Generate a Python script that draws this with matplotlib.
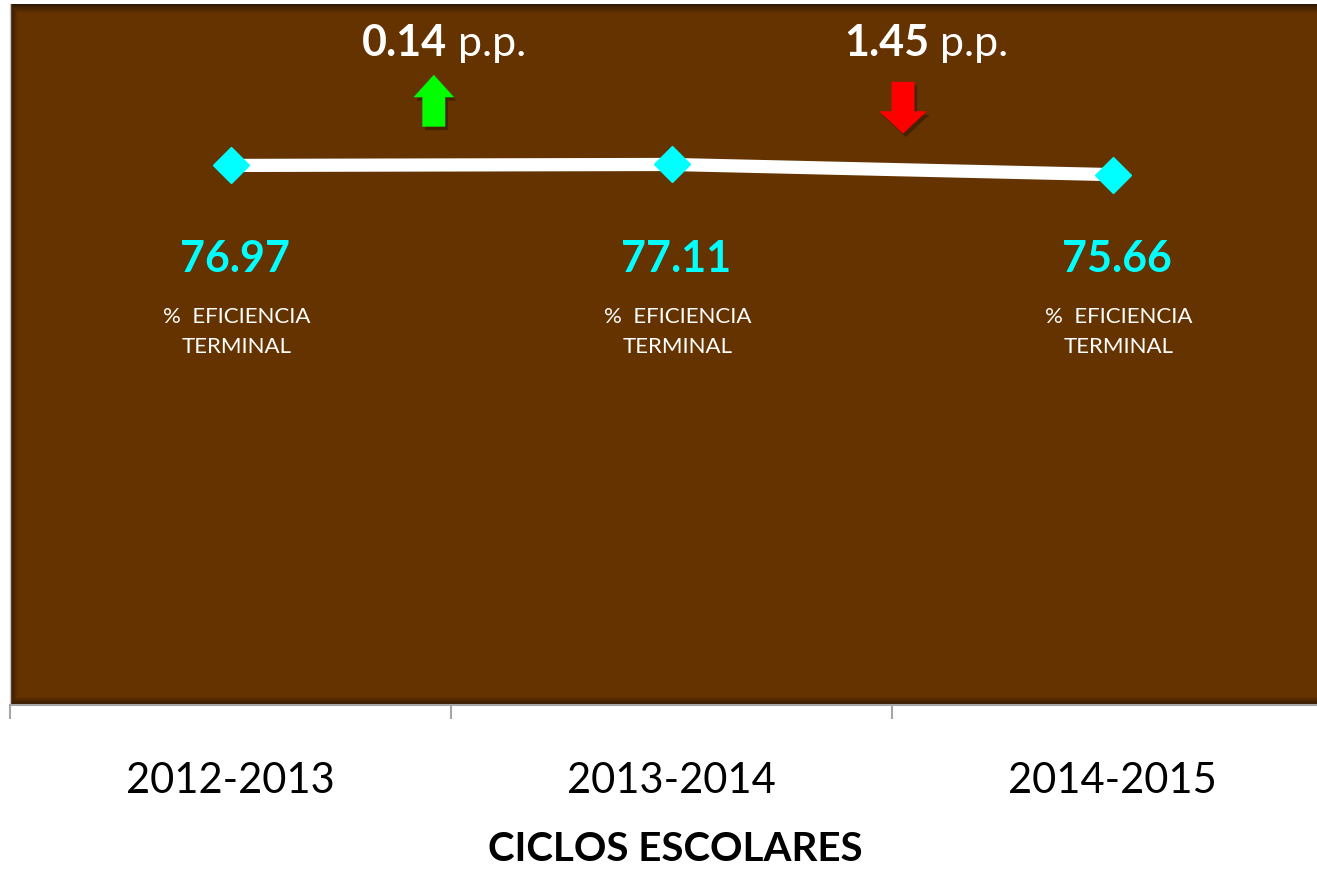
import matplotlib
matplotlib.use('Agg')
import matplotlib.pyplot as plt
import matplotlib.patches as mpatches
import numpy as np

# data
ciclos = ['2012-2013', '2013-2014', '2014-2015']
eficiencia = [76.97, 77.11, 75.66]
cambios = ['0.14', '1.45']
direcciones = ['up', 'down']

BROWN = '#653300'
CYAN = '#00ffff'
FONT = 'Lato'

plt.rcParams['font.family'] = [FONT, 'DejaVu Sans']

fig = plt.figure(figsize=(13.17, 8.71), dpi=100)
fig.patch.set_facecolor('white')
W, H = 1317, 871
# plot area: left 10px, top 4px, bottom 705px, one category = 441px
ax = fig.add_axes([10 / W, 1 - 705 / H, 3 * 441 / W, 701 / H])
ax.set_facecolor(BROWN)

x = np.arange(len(ciclos))
ax.set_xlim(-0.5, len(ciclos) - 0.5)
ax.set_ylim(0, 100)

# inner shadow along the edges of the plot area
ny, nx = 701, 1323
yy = np.arange(ny)[:, None]
xx = np.arange(nx)[None, :]
shade = np.maximum(np.clip(1 - yy / 10, 0, 1) * 0.55,
                   np.clip(1 - (ny - 1 - yy) / 8, 0, 1) * 0.5)
shade = np.maximum(shade, np.clip(1 - xx / 8, 0, 1) * 0.45)
rgba = np.zeros((ny, nx, 4))
rgba[..., 3] = shade
ax.imshow(rgba, extent=(0, 1, 0, 1), transform=ax.transAxes, aspect='auto',
          zorder=1, interpolation='bilinear')

ax.plot(x, eficiencia, color='white', linewidth=9.5, solid_capstyle='butt',
        zorder=3, marker='D', markersize=18, markerfacecolor=CYAN,
        markeredgecolor=CYAN)

for xi, v in zip(x, eficiencia):
    ax.text(xi + 0.01, 61.8, f'{v:.2f}', color=CYAN, fontsize=31,
            fontweight='bold', ha='center', va='baseline', zorder=4)
    ax.text(xi + 0.015, 53.2, '%  EFICIENCIA\nTERMINAL', color='white',
            fontsize=16, ha='center', va='center', linespacing=1.6, zorder=4)

# change annotations between cycles
split_x = [0.491, 1.584]
arrow_x = [0.461, 1.525]
for sx, ax_x, c, d in zip(split_x, arrow_x, cambios, direcciones):
    ax.text(sx, 92.6, c, color='white', fontsize=31, fontweight='bold',
            ha='right', va='baseline', zorder=4)
    ax.text(sx, 92.6, ' p.p.', color='white', fontsize=31,
            ha='left', va='baseline', zorder=4)
    hw, sw = 0.046, 0.026
    if d == 'up':
        top, neck, bot = 89.9, 86.7, 82.5
        pts = [(ax_x, top), (ax_x + hw, neck), (ax_x + sw, neck),
               (ax_x + sw, bot), (ax_x - sw, bot), (ax_x - sw, neck),
               (ax_x - hw, neck)]
        col = '#00ff00'
    else:
        top, neck, bot = 88.9, 84.7, 81.5
        hw = 0.054
        pts = [(ax_x - sw, top), (ax_x + sw, top), (ax_x + sw, neck),
               (ax_x + hw, neck), (ax_x, bot), (ax_x - hw, neck),
               (ax_x - sw, neck)]
        col = '#ff0000'
    shadow = [(px + 0.006, py - 0.5) for px, py in pts]
    ax.add_patch(mpatches.Polygon(shadow, closed=True, facecolor='black',
                                  edgecolor='none', alpha=0.3, zorder=3))
    ax.add_patch(mpatches.Polygon(pts, closed=True, facecolor=col,
                                  edgecolor='none', zorder=4))

# axes styling
for side in ['top', 'right']:
    ax.spines[side].set_visible(False)
ax.spines['left'].set_color('#c8c8c8')
ax.spines['left'].set_linewidth(1)
ax.spines['bottom'].set_color('#a6a6a6')
ax.spines['bottom'].set_linewidth(1.5)
ax.set_yticks([])
ax.set_xticks(x)
ax.set_xticklabels(ciclos, fontsize=30, color='black')
ax.tick_params(axis='x', which='major', length=0, pad=41)
ax.set_xticks(np.arange(-0.5, len(ciclos)), minor=True)
ax.tick_params(axis='x', which='minor', length=10, width=1.5,
               color='#a6a6a6', direction='out')
ax.set_xlabel('CICLOS ESCOLARES', fontsize=29, fontweight='bold',
              color='black', va='center')
ax.xaxis.set_label_coords((675 - 10) / (3 * 441), -(849 - 705) / 701)

fig.savefig('out.png', dpi=100, facecolor='white')
